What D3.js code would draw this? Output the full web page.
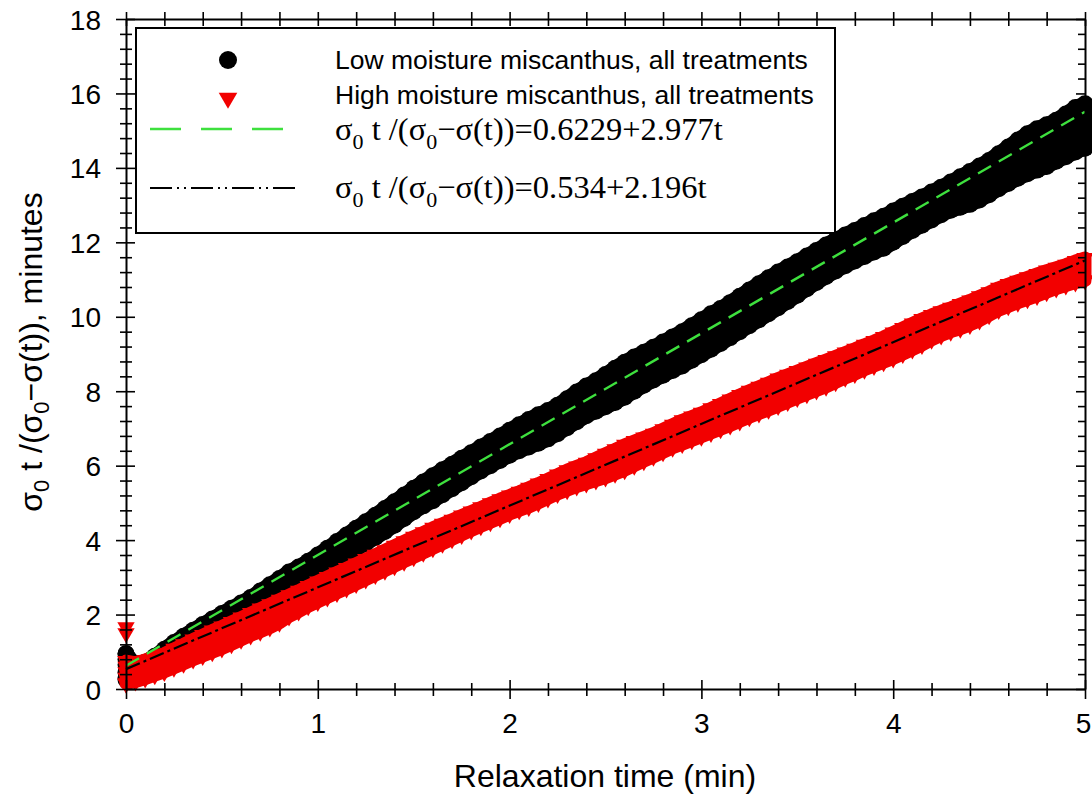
<!DOCTYPE html>
<html>
<head>
<meta charset="utf-8">
<script src="https://cdn.jsdelivr.net/npm/d3@7"></script>
<style>
  body { margin: 0; background: #fff; }
  svg { display: block; }
  text { font-family: Arial, "Liberation Sans", sans-serif; }
  .serif { font-family: "Times New Roman", "Liberation Serif", serif; }
</style>
</head>
<body>
<div id="chart"></div>
<script>
// relaxation time (min), sampled along the point clouds
var times = [0.00,0.05,0.10,0.15,0.20,0.25,0.30,0.35,0.40,0.45,0.50,0.55,0.60,0.65,0.70,0.75,0.80,0.85,0.90,0.95,
  1.00,1.05,1.10,1.15,1.20,1.25,1.30,1.35,1.40,1.45,1.50,1.55,1.60,1.65,1.70,1.75,1.80,1.85,1.90,1.95,
  2.00,2.05,2.10,2.15,2.20,2.25,2.30,2.35,2.40,2.45,2.50,2.55,2.60,2.65,2.70,2.75,2.80,2.85,2.90,2.95,
  3.00,3.05,3.10,3.15,3.20,3.25,3.30,3.35,3.40,3.45,3.50,3.55,3.60,3.65,3.70,3.75,3.80,3.85,3.90,3.95,
  4.00,4.05,4.10,4.15,4.20,4.25,4.30,4.35,4.40,4.45,4.50,4.55,4.60,4.65,4.70,4.75,4.80,4.85,4.90,4.95,5.00]

// low moisture miscanthus: upper and lower edge of the cloud (marker centres)
var lowUpper = [0.95,0.62,0.72,0.88,1.07,1.25,1.42,1.58,1.73,1.88,2.03,2.17,2.31,2.46,2.63,2.80,2.97,3.14,3.28,3.43,
  3.60,3.78,3.96,4.14,4.32,4.49,4.67,4.85,5.03,5.21,5.39,5.56,5.73,5.89,6.04,6.20,6.35,6.50,6.65,6.80,
  6.95,7.10,7.24,7.37,7.48,7.62,7.80,7.98,8.14,8.28,8.45,8.62,8.78,8.92,9.05,9.18,9.32,9.46,9.60,9.76,
  9.92,10.08,10.22,10.38,10.55,10.72,10.89,11.05,11.20,11.34,11.48,11.63,11.78,11.93,12.07,12.20,12.32,12.45,12.58,12.70,
  12.84,12.97,13.10,13.22,13.35,13.48,13.62,13.76,13.90,14.05,14.20,14.38,14.56,14.75,14.92,15.05,15.16,15.28,15.45,15.62,15.72]
var lowLower = [0.30,0.42,0.55,0.70,0.86,1.02,1.18,1.33,1.48,1.62,1.76,1.90,2.04,2.18,2.33,2.49,2.64,2.78,2.92,3.05,
  3.19,3.34,3.48,3.62,3.76,3.91,4.07,4.23,4.40,4.58,4.76,4.92,5.06,5.22,5.38,5.54,5.70,5.86,6.00,6.14,
  6.28,6.40,6.50,6.60,6.72,6.86,7.02,7.18,7.34,7.46,7.58,7.70,7.84,8.00,8.16,8.30,8.43,8.56,8.68,8.83,
  8.98,9.13,9.28,9.44,9.60,9.76,9.92,10.08,10.24,10.41,10.58,10.75,10.92,11.08,11.23,11.37,11.50,11.62,11.74,11.84,
  12.00,12.16,12.32,12.46,12.60,12.74,12.86,12.94,13.02,13.14,13.28,13.44,13.58,13.72,13.84,13.94,14.04,14.18,14.30,14.43,14.53]

// high moisture miscanthus
var highUpper = [0.75,0.70,0.78,0.86,0.95,1.08,1.20,1.33,1.45,1.57,1.68,1.80,1.92,2.04,2.16,2.28,2.40,2.52,2.64,2.77,
  2.89,3.01,3.13,3.25,3.37,3.49,3.61,3.73,3.85,3.97,4.09,4.21,4.33,4.44,4.55,4.66,4.77,4.88,4.99,5.10,
  5.20,5.30,5.41,5.52,5.64,5.76,5.88,5.98,6.08,6.20,6.32,6.44,6.56,6.66,6.76,6.86,6.98,7.10,7.22,7.32,
  7.42,7.54,7.66,7.78,7.90,8.01,8.12,8.23,8.34,8.44,8.54,8.64,8.74,8.84,8.94,9.04,9.14,9.25,9.35,9.46,
  9.58,9.70,9.82,9.94,10.05,10.15,10.24,10.34,10.44,10.55,10.66,10.78,10.88,10.97,11.06,11.15,11.24,11.32,11.40,11.50,11.58]
var highLower = [0.15,0.20,0.28,0.37,0.46,0.57,0.68,0.79,0.89,0.99,1.09,1.20,1.32,1.44,1.54,1.65,1.78,1.95,2.08,2.22,
  2.34,2.46,2.58,2.70,2.82,2.94,3.06,3.18,3.30,3.42,3.54,3.66,3.78,3.90,4.02,4.14,4.26,4.37,4.48,4.59,
  4.70,4.80,4.89,5.00,5.12,5.24,5.34,5.44,5.52,5.60,5.68,5.78,5.88,6.00,6.12,6.24,6.36,6.48,6.58,6.68,
  6.78,6.88,6.98,7.08,7.19,7.30,7.40,7.50,7.60,7.71,7.82,7.92,8.02,8.12,8.24,8.36,8.46,8.58,8.68,8.78,
  8.88,9.00,9.12,9.24,9.38,9.50,9.60,9.68,9.78,9.90,10.04,10.18,10.28,10.38,10.47,10.56,10.66,10.76,10.84,10.92,10.98]

// readings taken at t = 0
var lowStart = [0.25, 0.45, 0.65, 0.8, 0.95]
var highStart = [0.15, 0.3, 0.45, 0.6, 0.75, 1.5, 1.66]

// fitted lines: intercept, slope
var fitLow = [0.6229, 2.977]
var fitHigh = [0.534, 2.196]

var xMajor = [0, 1, 2, 3, 4, 5]
var yMajor = [0, 2, 4, 6, 8, 10, 12, 14, 16, 18]

var legendRows = ["Low moisture miscanthus, all treatments", "High moisture miscanthus, all treatments"]
var fitLabels = ["=0.6229+2.977t", "=0.534+2.196t"]

const width = 1092, height = 801
const margin = { top: 19, right: 7, bottom: 112, left: 126 }

let svg = d3.select("#chart").append("svg")
    .attr("width", width)
    .attr("height", height)

let x = d3.scaleLinear().domain([0, 5]).range([margin.left, width - margin.right])
let y = d3.scaleLinear().domain([0, 18]).range([height - margin.bottom, margin.top])

var RED = "#f20000"
var GREEN = "#3ee03e"
var triSym = d3.symbol().type(d3.symbolTriangle).size(130)

// ---- point clouds ----
// dense overlapping readings: filled band between the edges, outlined to marker size
function cloud(upper, lower, color, pad) {
    var rows = times.map(function (t, i) { return { t: t, u: upper[i], l: lower[i] } })
    var area = d3.area()
        .x(function (d) { return x(d.t) })
        .y0(function (d) { return y(d.l) })
        .y1(function (d) { return y(d.u) })
    svg.append("path").datum(rows).attr("d", area)
        .attr("fill", color).attr("stroke", color)
        .attr("stroke-width", pad).attr("stroke-linejoin", "round")
    return rows
}

var lowRows = cloud(lowUpper, lowLower, "#000", 15)
var lowPts = []
lowRows.forEach(function (d) { lowPts.push([d.t, d.u]); lowPts.push([d.t, d.l]) })
lowStart.forEach(function (v) { lowPts.push([0, v]) })

svg.append("g").selectAll("circle")
    .data(lowPts)
    .enter().append("circle")
    .attr("cx", function (d) { return x(d[0]) })
    .attr("cy", function (d) { return y(d[1]) })
    .attr("r", 8.5)
    .attr("fill", "#000")

var highRows = cloud(highUpper, highLower, RED, 13)
var highPts = []
highRows.forEach(function (d) { highPts.push([d.t, d.u]); highPts.push([d.t, d.l]) })
highStart.forEach(function (v) { highPts.push([0, v]) })

svg.append("g").selectAll("path")
    .data(highPts)
    .enter().append("path")
    .attr("d", triSym)
    .attr("transform", function (d) { return "translate(" + x(d[0]) + "," + y(d[1]) + ") rotate(180)" })
    .attr("fill", RED)

// ---- fitted lines ----
function fitLine(p) {
    return d3.line()
        .x(function (t) { return x(t) })
        .y(function (t) { return y(p[0] + p[1] * t) })([0, 5])
}

svg.append("path").attr("d", fitLine(fitLow))
    .attr("stroke", GREEN).attr("stroke-width", 2.4).attr("fill", "none")
    .attr("stroke-dasharray", "15,9")
svg.append("path").attr("d", fitLine(fitHigh))
    .attr("stroke", "#000").attr("stroke-width", 2.2).attr("fill", "none")
    .attr("stroke-dasharray", "15,4,3,4")

// ---- axes ----
var xMinor = d3.range(0, 5.001, 0.2).map(function (v) { return +v.toFixed(1) })
var yMinor = d3.range(0, 18.001, 0.4).map(function (v) { return +v.toFixed(1) })
function isMajor(v, list) { return list.some(function (m) { return Math.abs(m - v) < 1e-6 }) }

// bottom
let gx = svg.append("g")
    .attr("transform", "translate(0," + y(0) + ")")
    .call(d3.axisBottom(x).tickValues(xMinor).tickSizeOuter(0)
        .tickFormat(function (d) { return isMajor(d, xMajor) ? d : "" }))
gx.selectAll(".tick line")
    .attr("y1", function (d) { return isMajor(d, xMajor) ? -9 : -6 })
    .attr("y2", function (d) { return isMajor(d, xMajor) ? 10 : 7 })
gx.selectAll(".tick text").attr("y", 44).attr("dy", null)
    .attr("x", function (d) { return d === 5 ? -2 : 0 })
    .attr("font-size", 28).attr("fill", "#000").attr("font-family", "Arial, 'Liberation Sans', sans-serif")

// top
let gt = svg.append("g")
    .attr("transform", "translate(0," + y(18) + ")")
    .call(d3.axisTop(x).tickValues(xMinor).tickSizeOuter(0).tickFormat(""))
gt.selectAll(".tick line").attr("y1", 7).attr("y2", -7)

// left
let gy = svg.append("g")
    .attr("transform", "translate(" + x(0) + ",0)")
    .call(d3.axisLeft(y).tickValues(yMinor).tickSizeOuter(0)
        .tickFormat(function (d) { return isMajor(d, yMajor) ? d : "" }))
gy.selectAll(".tick line")
    .attr("x1", function (d) { return isMajor(d, yMajor) ? 9 : 6 })
    .attr("x2", function (d) { return isMajor(d, yMajor) ? -10 : -6 })
gy.selectAll(".tick text").attr("x", -25).attr("dy", "0.36em")
    .attr("font-size", 28).attr("fill", "#000").attr("font-family", "Arial, 'Liberation Sans', sans-serif")

// right
let gr = svg.append("g")
    .attr("transform", "translate(" + x(5) + ",0)")
    .call(d3.axisLeft(y).tickValues(yMinor).tickSizeOuter(0).tickFormat("")
        .tickSizeInner(7))
gr.selectAll(".tick line").attr("x2", function (d) { return isMajor(d, yMajor) ? -9 : -7 })

svg.selectAll(".domain").attr("stroke", "#000").attr("stroke-width", 2)
svg.selectAll(".tick line").attr("stroke", "#000").attr("stroke-width", 1.6)

// axis titles
svg.append("text")
    .attr("x", 605).attr("y", 787)
    .attr("text-anchor", "middle")
    .attr("font-size", 32)
    .text("Relaxation time (min)")

let yt = svg.append("text")
    .attr("transform", "translate(42," + 352 + ") rotate(-90)")
    .attr("text-anchor", "middle")
    .attr("font-size", 32)
yt.append("tspan").text("σ")
yt.append("tspan").attr("dy", 7).attr("font-size", 22).text("0")
yt.append("tspan").attr("dy", -7).text(" t /(σ")
yt.append("tspan").attr("dy", 7).attr("font-size", 22).text("0")
yt.append("tspan").attr("dy", -7).text("−σ(t)), minutes")

// ---- legend ----
let lg = svg.append("g")
lg.append("rect")
    .attr("x", 136).attr("y", 28).attr("width", 699).attr("height", 205)
    .attr("fill", "#fff").attr("stroke", "#000").attr("stroke-width", 2)

lg.append("circle").attr("cx", 228).attr("cy", 60).attr("r", 9).attr("fill", "#000")
lg.append("path").attr("d", d3.symbol().type(d3.symbolTriangle).size(150))
    .attr("transform", "translate(228,98) rotate(180)").attr("fill", RED)
lg.append("line").attr("x1", 150).attr("x2", 292).attr("y1", 129).attr("y2", 129)
    .attr("stroke", GREEN).attr("stroke-width", 2.4).attr("stroke-dasharray", "31,20")
lg.append("line").attr("x1", 150).attr("x2", 300).attr("y1", 188).attr("y2", 188)
    .attr("stroke", "#000").attr("stroke-width", 2).attr("stroke-dasharray", "22,5,2,5,2,5")

legendRows.forEach(function (s, i) {
    lg.append("text").attr("x", 335).attr("y", 69 + i * 35)
        .attr("font-size", 26.5).text(s)
})

fitLabels.forEach(function (s, i) {
    let t = lg.append("text").attr("class", "serif")
        .attr("x", 335).attr("y", [140, 198][i])
        .attr("font-size", 32.5)
    t.append("tspan").text("σ")
    t.append("tspan").attr("dy", 9).attr("font-size", 22).text("0")
    t.append("tspan").attr("dy", -9).text(" t /(σ")
    t.append("tspan").attr("dy", 9).attr("font-size", 22).text("0")
    t.append("tspan").attr("dy", -9).text("−σ(t))" + s)
})
</script>
</body>
</html>
